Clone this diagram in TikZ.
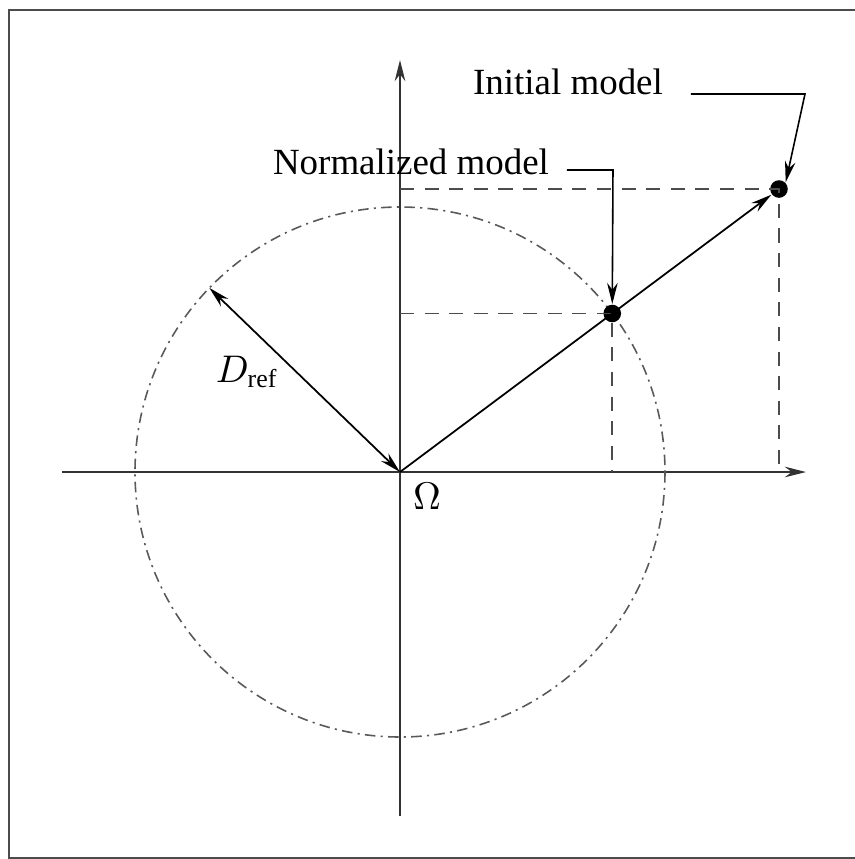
\documentclass[tikz,border=0pt]{standalone}
\usepackage{fontspec}
\setmainfont{Liberation Serif}
\usetikzlibrary{arrows.meta,positioning,calc}

\begin{document}
\begin{tikzpicture}[x=0.01cm,y=-0.01cm,>={Stealth[length=6pt,width=3pt]},font=\fontsize{10.5}{12}\selectfont,
 axis/.style={->,line width=.6pt,draw=black!80},
 guide/.style={dashed,dash pattern=on 4pt off 3pt,line width=.5pt,draw=black!70},
 ring/.style={dash pattern=on 3pt off 1.5pt on .6pt off 1.5pt,line width=.45pt,draw=black!65},
 lead/.style={->,line width=.45pt},
 dot/.style={circle,fill=black,inner sep=0,minimum size=5pt}]
\useasboundingbox (0,0) rectangle (855,859);
% frame
\draw[black!70,line width=.5pt] (855,10) -- (9,10) -- (9,858) -- (855,858);
% axes
\coordinate (O) at (400,472);
\coordinate (xl) at (62,472);  \coordinate (xr) at (806,472);
\coordinate (yb) at (400,816); \coordinate (yt) at (400,60);
\draw[axis] (xl) -- (xr);
\draw[axis] (yb) -- (yt);
\node (om) at (427,496) {$\Omega$};
% reference circle
\draw[ring] (O) circle (265);
% models
\node[dot] (init) at (779,189) {};
\node[dot] (norm) at ($(O)!265/473.1!(779,189)$) {};
\draw[guide] (init.center -| O) -- (init.center) -- (init.center |- O);
\draw[guide] (norm.center -| O) -- (norm.center) -- (norm.center |- O);
\draw[->,line width=.5pt] (O) -- (init);
% radius
\coordinate (rim) at ($(O)+(-136:265)$);
\draw[<->,line width=.5pt] (rim) -- (O);
\node (dref) at (247,372) {$D_{\mathrm{ref}}$};
% labels
\node (tinit) at (568,82) {Initial model};
\node (tnorm) at (411,162) {Normalized model};
\coordinate (ki) at (805,94);
\coordinate (kn) at (613,170);
\draw[lead] (691,94) -- (ki) -- (init.north east);
\draw[lead] (567,170) -- (kn) -- (norm.north);
\end{tikzpicture}
\end{document}
